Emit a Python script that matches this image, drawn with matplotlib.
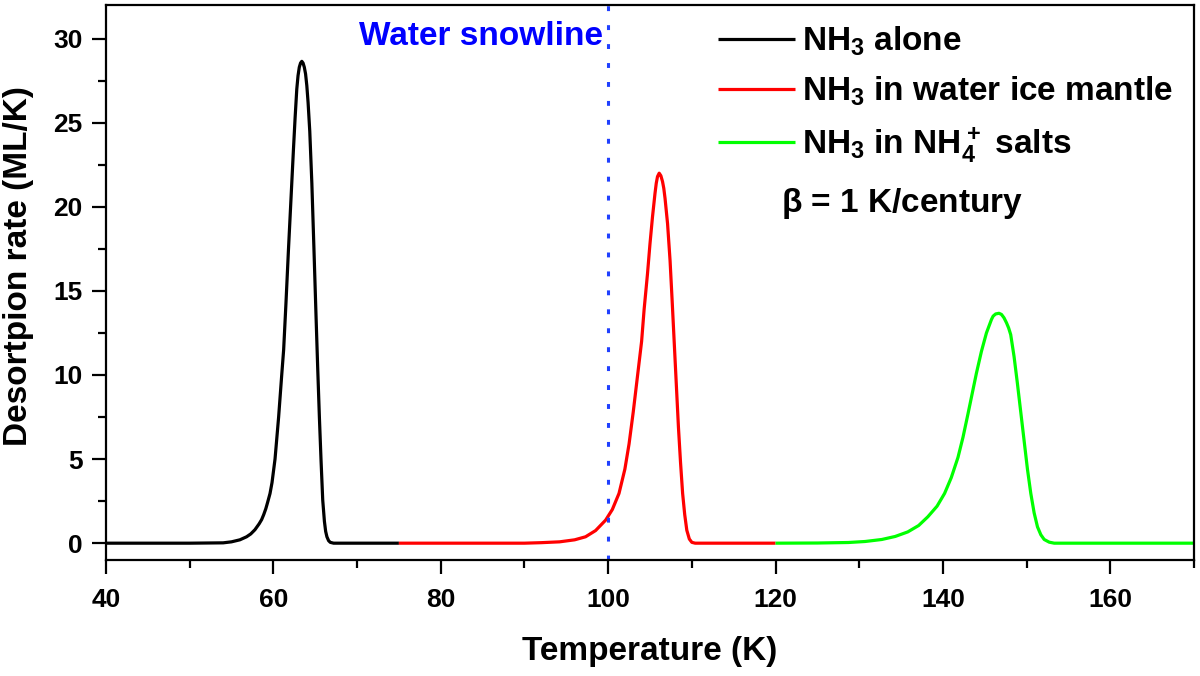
"""
Desorption rate of NH3 from three ice environments vs temperature
"""

from matplotlib import pyplot as plt
from matplotlib.ticker import MultipleLocator

# NH3 alone
t_alone = [40, 50, 54, 55, 56, 56.8, 57.3, 57.8, 58.3, 58.6, 58.85, 59.1, 59.3, 59.6, 59.84,
           60.2, 60.63, 61.0, 61.23, 61.5, 61.8, 62.1, 62.4, 62.6, 62.8, 62.95, 63.1,
           63.25, 63.4, 63.55, 63.7, 63.85, 64.0, 64.15, 64.35, 64.6, 64.85, 65.1, 65.3,
           65.5, 65.7, 65.9, 66.1, 66.25, 66.4, 66.6, 66.8, 67.2, 75]
r_alone = [0, 0, 0.02, 0.08, 0.2, 0.38, 0.55, 0.8, 1.15, 1.4, 1.7, 2.05, 2.4, 2.95, 3.6,
           5.0, 7.5, 10.0, 11.5, 14.2, 17.4, 20.4, 23.4, 25.3, 27.0, 27.8, 28.3,
           28.55, 28.65, 28.55, 28.3, 27.9, 27.2, 26.2, 24.5, 21.4, 17.5, 13.5, 10.4,
           7.5, 4.9, 2.56, 1.3, 0.7, 0.38, 0.15, 0.05, 0, 0]

# NH3 in water ice mantle
t_water = [75, 90, 92, 94.2, 96, 97.3, 98.5, 99.7, 100.5, 101.3, 102, 102.5, 103, 103.5,
           104, 104.3, 104.7, 105.0, 105.3, 105.6, 105.75, 105.9, 106.1, 106.3, 106.5,
           106.65, 106.8, 107.1, 107.4, 107.65, 107.9, 108.15, 108.4, 108.65, 108.9,
           109.15, 109.4, 109.7, 110.0, 110.4, 120]
r_water = [0, 0, 0.03, 0.08, 0.2, 0.38, 0.75, 1.37, 2.0, 2.96, 4.4, 5.9, 7.8, 9.9,
           12.0, 13.9, 16.0, 17.8, 19.4, 20.8, 21.4, 21.8, 22.0, 21.85, 21.5,
           21.1, 20.5, 19.0, 16.8, 14.4, 11.9, 9.4, 6.9, 4.8, 2.96,
           1.7, 0.77, 0.25, 0.05, 0, 0]

# NH3 in NH4+ salts
t_salt = [120, 125, 128.7, 130.7, 132.7, 134.3, 135.8, 137.1, 138.2, 139.3, 140.2, 141.0,
          141.8, 142.4, 143.0, 143.5, 144.0, 144.6, 145.2, 145.8, 146.0, 146.3, 146.7,
          147.0, 147.3, 147.6, 147.85, 148.1, 148.5, 148.9, 149.3, 149.7, 150.1, 150.5,
          150.9, 151.3, 151.7, 152.1, 152.7, 153.3, 170]
r_salt = [0, 0.01, 0.04, 0.1, 0.22, 0.4, 0.67, 1.05, 1.57, 2.2, 2.96, 3.9,
          5.1, 6.3, 7.7, 8.9, 10.1, 11.4, 12.5, 13.3, 13.5, 13.63, 13.67,
          13.6, 13.4, 13.1, 12.8, 12.4, 11.1, 9.5, 7.8, 6.1, 4.4, 2.96,
          1.8, 0.97, 0.5, 0.22, 0.06, 0, 0]

snowline = 100

plt.rcParams['font.family'] = ['Liberation Sans', 'DejaVu Sans']
plt.rcParams['font.weight'] = 'bold'
plt.rcParams['mathtext.fontset'] = 'custom'
plt.rcParams['mathtext.rm'] = 'Liberation Sans:bold'
plt.rcParams['mathtext.bf'] = 'Liberation Sans:bold'
plt.rcParams['mathtext.default'] = 'rm'

fig = plt.figure(figsize=(12, 6.76), dpi=100)
ax = fig.add_axes([0.0883, 0.1716, 0.9067, 0.821])

kw = dict(lw=2.3, solid_joinstyle='round', solid_capstyle='butt')
ax.plot(t_alone, r_alone, color='black', label=r'NH$_3$ alone', **kw)
ax.plot(t_water, r_water, color='#ff0000', label=r'NH$_3$ in water ice mantle', **kw)
ax.plot(t_salt, r_salt, color='#00ff00', label=r'NH$_3$ in NH$_4^+$ salts', **kw)

ax.axvline(snowline, color='#2040ff', lw=2.2, linestyle=(0, (1.6, 4.6)))
ax.text(snowline - 0.6, 30.1, 'Water snowline', color='#0000ff', fontsize=24,
        fontweight='bold', ha='right', va='center')

leg = ax.legend(loc='upper right', bbox_to_anchor=(0.9995, 1.0), frameon=False,
                fontsize=24, handlelength=2.3, handletextpad=0.22, labelspacing=0.5,
                borderaxespad=0.2, borderpad=0.4)
ax.text(135.1, 20.2, r'$\beta$ = 1 K/century', fontsize=24, fontweight='bold',
        ha='center', va='center')

ax.set_xlim(40, 170)
ax.set_ylim(-1, 32)
ax.xaxis.set_major_locator(MultipleLocator(20))
ax.xaxis.set_minor_locator(MultipleLocator(10))
ax.yaxis.set_major_locator(MultipleLocator(5))
ax.yaxis.set_minor_locator(MultipleLocator(2.5))
ax.tick_params(which='both', direction='out', width=1.6, labelsize=19)
ax.tick_params(which='major', length=10)
ax.tick_params(which='minor', length=6)
ax.tick_params(axis='x', which='major', pad=10)
ax.tick_params(axis='y', which='major', pad=7)
for s in ax.spines.values():
    s.set_linewidth(1.6)

ax.set_xlabel('Temperature (K)', fontsize=24, fontweight='bold')
ax.set_ylabel('Desortpion rate (ML/K)', fontsize=24, fontweight='bold')
ax.xaxis.set_label_coords(0.5, -0.137)
ax.yaxis.set_label_coords(-0.066, 0.53)

fig.savefig('out.png', dpi=100)
